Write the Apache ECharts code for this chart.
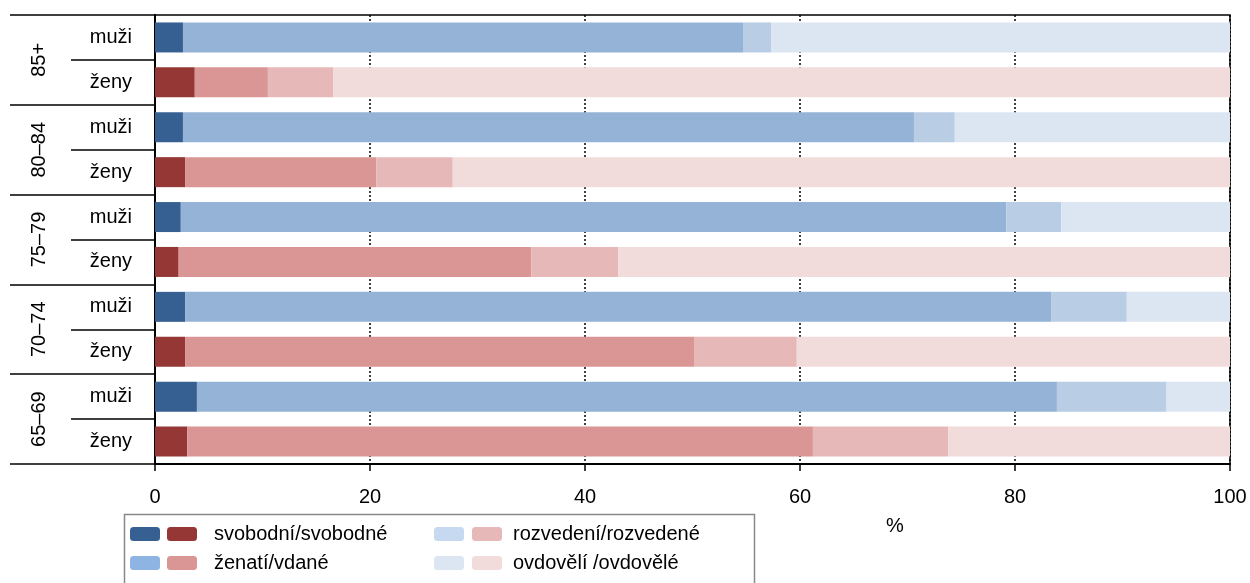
<!DOCTYPE html>
<html>
<head>
<meta charset="utf-8">
<script src="https://cdn.jsdelivr.net/npm/echarts@6/dist/echarts.min.js"></script>
<style>html,body{margin:0;padding:0;background:#fff}#c{width:1250px;height:583px}</style>
</head>
<body>
<div id="c"></div>
<script>
// rows from top to bottom
const ageGroups = ['85+', '80–84', '75–79', '70–74', '65–69'];
const sexLabels = ['muži', 'ženy'];
const rowLabels = ['muži', 'ženy', 'muži', 'ženy', 'muži', 'ženy', 'muži', 'ženy', 'muži', 'ženy'];
const xTicks = [0, 20, 40, 60, 80, 100];
const statusLabels = ['svobodní/svobodné', 'ženatí/vdané', 'rozvedení/rozvedené', 'ovdovělí /ovdovělé'];

// men values per age group (85+ .. 65-69): single, married, divorced, widowed
const menSingle   = [2.6, 2.6, 2.4, 2.8, 3.9];
const menMarried  = [52.1, 68.0, 76.8, 80.6, 80.0];
const menDivorced = [2.6, 3.8, 5.1, 7.0, 10.2];
const menWidowed  = [42.7, 25.6, 15.7, 9.6, 5.9];
// women values per age group
const womenSingle   = [3.7, 2.8, 2.2, 2.8, 3.0];
const womenMarried  = [6.8, 17.8, 32.8, 47.4, 58.2];
const womenDivorced = [6.1, 7.1, 8.1, 9.5, 12.6];
const womenWidowed  = [83.4, 72.3, 56.9, 40.3, 26.2];

const menColors   = ['#376092', '#95b3d7', '#b9cde5', '#dce6f2'];
const womenColors = ['#953735', '#d99694', '#e6b9b8', '#f2dcdb'];
const menLegendColors = ['#376092', '#8db4e2', '#c6d9f1', '#dce6f2'];
const womenLegendColors = ['#953735', '#d99694', '#e6b9b8', '#f2dcdb'];

function spread(vals, sexIdx) {
  const out = [];
  vals.forEach(v => {
    out.push(sexIdx === 0 ? v : null);
    out.push(sexIdx === 1 ? v : null);
  });
  return out;
}

const menData = [menSingle, menMarried, menDivorced, menWidowed];
const womenData = [womenSingle, womenMarried, womenDivorced, womenWidowed];
const menNames = statusLabels.map(s => 'M ' + s);
const womenNames = statusLabels.map(s => 'Z ' + s);

const series = [];
for (let i = 0; i < 4; i++) {
  series.push({
    name: menNames[i], type: 'bar', stack: 'all', yAxisIndex: 0,
    barWidth: 30, itemStyle: { color: menColors[i] },
    data: spread(menData[i], 0)
  });
}
for (let i = 0; i < 4; i++) {
  series.push({
    name: womenNames[i], type: 'bar', stack: 'all', yAxisIndex: 0,
    barWidth: 30, itemStyle: { color: womenColors[i] },
    data: spread(womenData[i], 1)
  });
}

const FONT = 'Liberation Sans, Arial, sans-serif';
const labelMap = {};
statusLabels.forEach((s, i) => { labelMap[womenNames[i]] = s; labelMap[menNames[i]] = ' '; });

function mkLegend(left, names, colors, textPad) {
  return {
    orient: 'vertical', left: left, top: 524, padding: 0,
    itemWidth: 30, itemHeight: 14, itemGap: 9, icon: 'roundRect',
    selectedMode: false,
    data: names.map((n, i) => ({ name: n, itemStyle: { color: colors[i] } })),
    formatter: n => labelMap[n],
    textStyle: { fontFamily: FONT, fontSize: 20, color: '#000', padding: [0, 0, 0, textPad], lineHeight: 20, height: 20 }
  };
}

const chart = echarts.init(document.getElementById('c'), null, { renderer: 'canvas' });
chart.setOption({
  animation: false,
  backgroundColor: '#fff',
  grid: { left: 155, right: 20, top: 15, bottom: 119, show: true, borderColor: '#000', borderWidth: 1.5, backgroundColor: 'transparent' },
  xAxis: {
    type: 'value', min: 0, max: 100, interval: 20,
    axisLine: { show: true, lineStyle: { color: '#000', width: 2 } },
    axisTick: { show: true, length: 7, lineStyle: { color: '#000', width: 1.5 } },
    axisLabel: { fontFamily: FONT, fontSize: 20, color: '#000', margin: 23, formatter: v => xTicks.includes(v) ? String(v) : '' },
    splitLine: { show: true, lineStyle: { color: '#000', width: 1.5, type: [2, 2] } }
  },
  yAxis: [
    {
      type: 'category', inverse: true, data: rowLabels,
      axisLine: { show: true, lineStyle: { color: '#000', width: 2 } },
      axisTick: { show: true, length: 84, lineStyle: { color: '#000', width: 1.5 } },
      axisLabel: { fontFamily: FONT, fontSize: 20, color: '#000', margin: 23 },
      splitLine: { show: false }
    },
    {
      type: 'category', inverse: true, data: ageGroups, position: 'left', offset: 0,
      axisLine: { show: false },
      axisTick: { show: true, length: 145, lineStyle: { color: '#000', width: 1.5 } },
      axisLabel: { fontFamily: FONT, fontSize: 20, color: '#000', rotate: 90, margin: 106 },
      splitLine: { show: false }
    }
  ],
  legend: [
    mkLegend(130, [menNames[0], menNames[1]], [menLegendColors[0], menLegendColors[1]], 0),
    mkLegend(167, [womenNames[0], womenNames[1]], [womenLegendColors[0], womenLegendColors[1]], 12),
    mkLegend(434, [menNames[2], menNames[3]], [menLegendColors[2], menLegendColors[3]], 0),
    mkLegend(472, [womenNames[2], womenNames[3]], [womenLegendColors[2], womenLegendColors[3]], 6)
  ],
  graphic: [
    { type: 'rect', left: 122, top: 512, shape: { width: 630, height: 100 }, style: { fill: 'none', stroke: '#888', lineWidth: 1.5 }, z: -1 },
    { type: 'text', left: 886, top: 516, style: { text: '%', fontFamily: FONT, fontSize: 20, fill: '#000' } }
  ],
  series: series
});
</script>
</body>
</html>
